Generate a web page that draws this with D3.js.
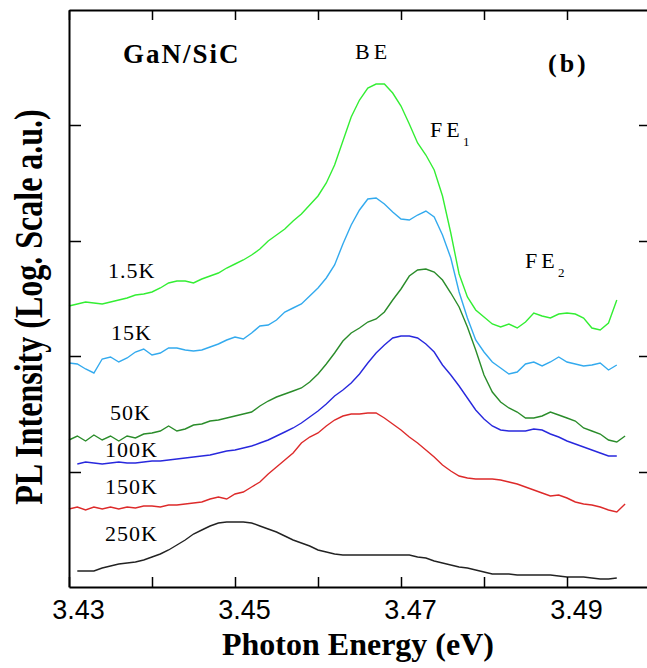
<!DOCTYPE html>
<html><head><meta http-equiv="Content-Type" content="text/html; charset=UTF-8"><style>

body { margin: 0; background: #fff; }
.axis .domain { stroke-width: 2px; }
.axis line { stroke-width: 1.5px; }
.lbl { font-family: "Liberation Serif", "Times New Roman", serif; }

</style>
</head>
<body>
<svg width="647" height="668"></svg>
<script src="https://cdn.jsdelivr.net/npm/d3@7"></script>
<script>

// photon energy (eV), one reading every 1 meV
var energy = [
  3.430, 3.431, 3.432, 3.433, 3.434, 3.435, 3.436, 3.437, 3.438, 3.439,
  3.440, 3.441, 3.442, 3.443, 3.444, 3.445, 3.446, 3.447, 3.448, 3.449,
  3.450, 3.451, 3.452, 3.453, 3.454, 3.455, 3.456, 3.457, 3.458, 3.459,
  3.460, 3.461, 3.462, 3.463, 3.464, 3.465, 3.466, 3.467, 3.468, 3.469,
  3.470, 3.471, 3.472, 3.473, 3.474, 3.475, 3.476, 3.477, 3.478, 3.479,
  3.480, 3.481, 3.482, 3.483, 3.484, 3.485, 3.486, 3.487, 3.488, 3.489,
  3.490, 3.491, 3.492, 3.493, 3.494, 3.495, 3.496, 3.497
];

// PL intensity, log scale, arbitrary units (curves offset for clarity)
var pl1_5K = [281,283,285,284,283,285,287,289,292,293,295,299,304,306,306,304,308,311,314,319,
  323,327,332,338,346,352,358,366,373,382,391,404,422,446,470,487,499,503,503,494,
  481,463,444,432,417,391,354,313,290,277,270,263,260,263,259,265,274,271,269,273,
  274,273,269,259,257,264,287,null];
var pl15K = [224,223,218,214,228,230,225,229,235,238,232,234,239,239,237,236,237,240,243,247,
  250,248,254,261,262,267,275,279,283,291,299,309,322,343,362,377,388,389,383,375,
  368,367,372,376,370,352,329,295,269,247,235,225,219,213,215,223,225,221,225,230,
  225,223,221,222,224,217,222,null];
var pl50K = [147,151,146,152,147,151,146,151,149,153,154,156,161,156,158,162,163,166,167,169,
  171,173,175,181,186,190,193,196,199,205,213,223,234,246,254,259,265,268,275,287,
  298,311,317,318,315,307,294,280,260,237,212,195,185,179,175,169,169,171,175,172,
  169,166,159,156,153,147,145,151];
var pl100K = [null,123,125,124,123,124,125,124,124,125,126,126,127,128,129,130,131,132,134,136,
  137,139,141,144,147,151,155,159,164,170,176,183,191,197,204,213,224,234,242,249,
  251,251,249,243,235,222,212,201,189,177,168,161,157,156,156,156,158,157,153,150,
  146,143,140,137,134,131,131,null];
var pl150K = [78,80,77,80,78,80,78,80,79,81,81,80,82,82,83,84,85,88,90,88,
  93,95,100,105,113,120,127,134,144,150,154,161,167,171,173,173,174,174,169,163,
  157,150,144,137,130,122,116,111,109,108,108,108,107,105,103,100,97,94,91,92,
  89,85,83,82,80,77,75,83];
var pl250K = [null,16,16,16,19,21,23,24,25,27,30,33,37,42,47,53,57,61,64,65,
  65,65,64,61,58,55,51,47,44,41,37,35,33,32,32,32,32,32,32,32,
  32,32,30,29,26,24,22,20,19,17,15,13,13,13,12,12,12,12,12,11,
  10,10,10,9,8,8,9,null];

var temps = ["1.5K", "15K", "50K", "100K", "150K", "250K"];
var colors = ["#33ee33", "#33aaee", "#2a8c2a", "#2828dd", "#dd2a2a", "#222222"];
var xLabelled = [3.43, 3.45, 3.47, 3.49];
var xTicks = [3.43, 3.44, 3.45, 3.46, 3.47, 3.48, 3.49];
var yTicks = [115, 231, 346, 462];

var series = [pl1_5K, pl15K, pl50K, pl100K, pl150K, pl250K];

var svg = d3.select("svg"),
    margin = {top: 10, right: 0, bottom: 81, left: 69},
    width = 579,
    height = +svg.attr("height") - margin.top - margin.bottom,
    g = svg.append("g").attr("transform", "translate(" + margin.left + "," + margin.top + ")");

var x = d3.scaleLinear().domain([3.43, 3.43 + 579 / 8300]).range([0, width]);
var y = d3.scaleLinear().domain([0, 577]).range([height, 0]);

var line = d3.line()
    .defined(function(d) { return d[1] != null; })
    .x(function(d) { return x(d[0]); })
    .y(function(d) { return y(d[1]); });

g.append("g")
  .selectAll("path")
  .data(series)
  .enter().append("path")
    .attr("fill", "none")
    .attr("stroke", function(d, i) { return colors[i]; })
    .attr("stroke-width", 1.4)
    .attr("d", function(d) {
        return line(d.map(function(v, i) { return [energy[i], v]; }));
    });

// frame with inward ticks
g.append("g")
    .attr("class", "axis")
    .attr("transform", "translate(0," + height + ")")
    .call(d3.axisBottom(x).tickValues(xTicks).tickSizeInner(-10).tickSizeOuter(0).tickPadding(13)
      .tickFormat(function(d) {
          return xLabelled.some(function(v) { return Math.abs(v - d) < 1e-6; }) ? d3.format(".2f")(d) : "";
      }))
    .call(function(s) {
        s.selectAll("text")
          .attr("font-family", "'Liberation Sans', Arial, sans-serif")
          .attr("font-size", 27)
          .attr("fill", "#000")
          .attr("dx", 9);
    });

g.append("g")
    .attr("class", "axis")
    .call(d3.axisTop(x).tickValues(xTicks).tickSizeInner(-10).tickSizeOuter(0).tickFormat(""));

g.append("g")
    .attr("class", "axis")
    .call(d3.axisLeft(y).tickValues(yTicks).tickSizeInner(-12).tickSizeOuter(0).tickFormat(""));

g.append("g")
    .attr("class", "axis")
    .attr("transform", "translate(" + width + ",0)")
    .call(d3.axisRight(y).tickValues(yTicks).tickSizeInner(-9).tickSizeOuter(0).tickFormat(""));

// axis titles
svg.append("text")
    .attr("class", "lbl")
    .attr("x", 358)
    .attr("y", 655)
    .attr("text-anchor", "middle")
    .attr("font-size", 32)
    .attr("font-weight", "bold")
    .text("Photon Energy (eV)");

svg.append("text")
    .attr("class", "lbl")
    .attr("transform", "translate(42,307) rotate(-90) scale(1,1.25)")
    .attr("text-anchor", "middle")
    .attr("font-size", 32)
    .attr("font-weight", "bold")
    .text("PL Intensity (Log. Scale a.u.)");

// temperature labels
var tempPos = [[108, 278], [111, 340], [110, 420], [105, 457], [105, 494], [105, 541]];
svg.append("g")
    .attr("class", "lbl")
    .attr("font-size", 22)
  .selectAll("text")
  .data(temps)
  .enter().append("text")
    .attr("x", function(d, i) { return tempPos[i][0]; })
    .attr("y", function(d, i) { return tempPos[i][1]; })
    .attr("letter-spacing", 1)
    .text(function(d) { return d; });

// annotations
svg.append("text")
    .attr("class", "lbl")
    .attr("x", 123).attr("y", 63)
    .attr("font-size", 27).attr("font-weight", "bold")
    .attr("letter-spacing", 2)
    .text("GaN/SiC");

svg.append("text")
    .attr("class", "lbl")
    .attr("x", 548).attr("y", 72)
    .attr("font-size", 26).attr("font-weight", "bold")
    .attr("letter-spacing", 3)
    .text("(b)");

svg.append("text")
    .attr("class", "lbl")
    .attr("x", 355).attr("y", 59)
    .attr("font-size", 22)
    .attr("letter-spacing", 4)
    .text("BE");

function fe(xp, yp, sub) {
  svg.append("text")
      .attr("class", "lbl")
      .attr("x", xp).attr("y", yp)
      .attr("font-size", 22)
      .attr("letter-spacing", 4)
      .text("FE");
  svg.append("text")
      .attr("class", "lbl")
      .attr("x", xp + 33).attr("y", yp + 9)
      .attr("font-size", 13)
      .text(sub);
}
fe(430, 137, "1");
fe(525, 268, "2");

</script>
</body></html>
